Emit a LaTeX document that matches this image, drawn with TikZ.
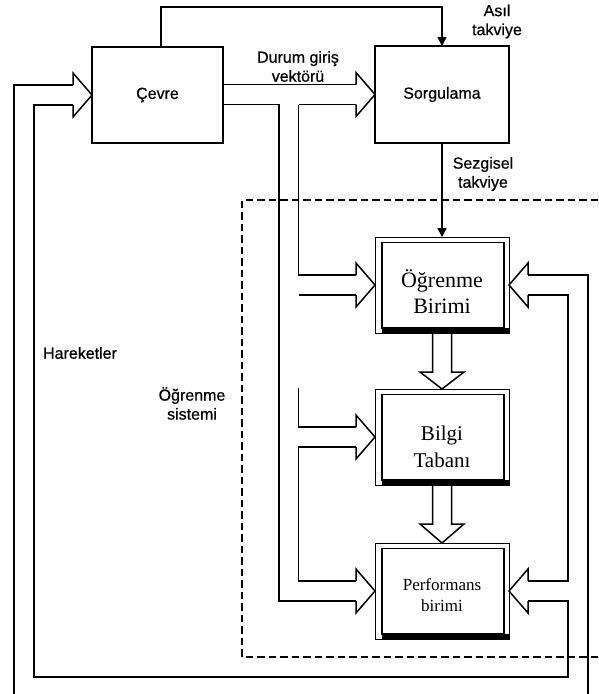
\documentclass[tikz,border=0pt]{standalone}
\usepackage{fontspec}
\setmainfont{Liberation Serif}
\newfontfamily\lsans{Liberation Sans}[FakeBold=0.6]
\usetikzlibrary{calc,arrows.meta}
\newcommand\hhR[1]{\draw[line] ($(#1)+(-19,-10)$) -- ++(0,-12) -- (#1) -- ($(#1)+(-19,22)$) -- ++(0,-12);}
\newcommand\hhL[1]{\draw[line] ($(#1)+(19,-10)$) -- ++(0,-12) -- (#1) -- ($(#1)+(19,22)$) -- ++(0,-12);}
\begin{document}
\begin{tikzpicture}[x=1pt,y=-1pt,
  line/.style={line width=1.5pt, line join=miter},
  box/.style={draw, line width=1.7pt, minimum width=131pt, minimum height=96pt, inner sep=0pt, outer sep=0pt},
  dbox/.style={draw, line width=0.9pt, minimum width=134pt, minimum height=96pt, inner sep=0pt, outer sep=0pt},
  lbl/.style={font=\lsans\fontsize{16}{19}\selectfont, align=center, inner sep=0pt},
  ser/.style={align=center, inner sep=0pt},
  tip/.style={-{Triangle[length=9pt,width=9pt]}},
  dashbox/.style={line width=1.2pt, dash pattern=on 7.5pt off 4pt}
]
\useasboundingbox (0,0) rectangle (598,694);
\fill[white] (0,0) rectangle (598,694);

% boxes
\node[box, font=\lsans\fontsize{16}{19}\selectfont] (cevre) at (157.5,95) {Çevre};
\node[box, minimum width=134pt, minimum height=97pt, font=\lsans\fontsize{16}{19}\selectfont] (sorg) at (442,94.5) {Sorgulama};
\node[dbox] (ogr) at (442,285) {};
\node[dbox] (bilgi) at (442,437) {};
\node[dbox] (perf) at (442,591) {};
\foreach \n in {ogr,bilgi,perf}{
  \draw[line width=1.8pt] ($(\n.north west)+(7,5.5)$) rectangle ($(\n.south east)+(-5,-5)$);
  \fill ($(\n.south west)+(7,-5.5)$) rectangle (\n.south east);
}
\node[ser, font=\fontsize{22}{26}\selectfont] (ogrt) at ($(ogr.center)+(0,7)$) {Öğrenme\\Birimi};
\node[ser, font=\fontsize{21}{27}\selectfont] (bilgit) at ($(bilgi.center)+(0,10)$) {Bilgi\\Tabanı};
\node[ser, font=\fontsize{17}{21}\selectfont] (perft) at ($(perf.center)+(0,4)$) {Performans\\birimi};

% dashed learning-system frame
\draw[dashbox] (598,200) -- (242,200) -- (242,657) -- (598,657);

% helper coordinates
\coordinate (Su) at ($(sorg.west)+(-19,-10)$);
\coordinate (Sl) at ($(sorg.west)+(-19,10)$);
\coordinate (Ou) at ($(ogr.west)+(-19,-10)$);
\coordinate (Ol) at ($(ogr.west)+(-19,10)$);
\coordinate (Bu) at ($(bilgi.west)+(-19,-10)$);
\coordinate (Bl) at ($(bilgi.west)+(-19,10)$);
\coordinate (Pu) at ($(perf.west)+(-19,-10)$);
\coordinate (Pl) at ($(perf.west)+(-19,10)$);
\coordinate (Oru) at ($(ogr.east)+(19,-10)$);
\coordinate (Orl) at ($(ogr.east)+(19,10)$);
\coordinate (Pru) at ($(perf.east)+(19,-10)$);
\coordinate (Prl) at ($(perf.east)+(19,10)$);
\coordinate (Cu) at ($(cevre.west)+(-19,-10)$);
\coordinate (Cl) at ($(cevre.west)+(-19,10)$);
\coordinate (xa) at (279,0);
\coordinate (xb) at (298.5,0);
\coordinate (xr1) at (568,0);
\coordinate (xr2) at (588,0);
\coordinate (xl1) at (14,0);
\coordinate (xl2) at (34,0);

% hollow arrow heads
\hhR{sorg.west}
\hhR{ogr.west}
\hhR{bilgi.west}
\hhR{perf.west}
\hhR{cevre.west}
\hhL{ogr.east}
\hhL{perf.east}

% Cevre -> Sorgulama and branches
\draw[line] (cevre.east |- Su) -- (Su);
\draw[line] (cevre.east |- Sl) -| (xa |- Pl) -- (Pl);
\draw[line] (xb |- Sl) -- (Sl);
\draw[line] (xb |- Sl) |- (Ou);
\draw[line] (xb |- Ol) -- (Ol);
\draw[line] ($(xb |- Bu)+(0,-39)$) |- (Bu);
\draw[line] (Bl) -| (xb |- Pu) -- (Pu);

% right side feedback lines
\draw[line] (Oru) -| (xr2 |- 0,694);
\draw[line] (Orl) -| (xr1 |- Pru) -- (Pru);
\draw[line] (Prl) -| (xr1 |- 0,677) -| (xl2 |- Cl) -- (Cl);
\draw[line] (Cu) -| (xl1 |- 0,694);

% thin arrows
\draw[line, tip] ($(cevre.north)+(3.5,0)$) -- ++(0,-40) -| (sorg.north);
\draw[line, tip] (sorg.south) -- (ogr.north);

% down hollow arrows
\draw[line] ($(ogr.south)+(-9.5,0)$) -- ($(bilgi.north)+(-9.5,-17)$) -- ++(-12.5,0) -- (bilgi.north) -- ($(bilgi.north)+(22,-17)$) -- ++(-12.5,0) -- ($(ogr.south)+(9.5,0)$);
\draw[line] ($(bilgi.south)+(-9.5,0)$) -- ($(perf.north)+(-9.5,-19)$) -- ++(-12.5,0) -- (perf.north) -- ($(perf.north)+(22,-19)$) -- ++(-12.5,0) -- ($(bilgi.south)+(9.5,0)$);

% labels
\node[lbl] (durum) at (298,66.5) {Durum giriş\\vektörü};
\node[lbl] (asil) at (497,21.5) {Asıl\\takviye};
\node[lbl] (sezg) at (483,174) {Sezgisel\\takviye};
\node[lbl] (har) at (80,353) {Hareketler};
\node[lbl] (osis) at (192,403.5) {Öğrenme\\sistemi};
\end{tikzpicture}
\end{document}
